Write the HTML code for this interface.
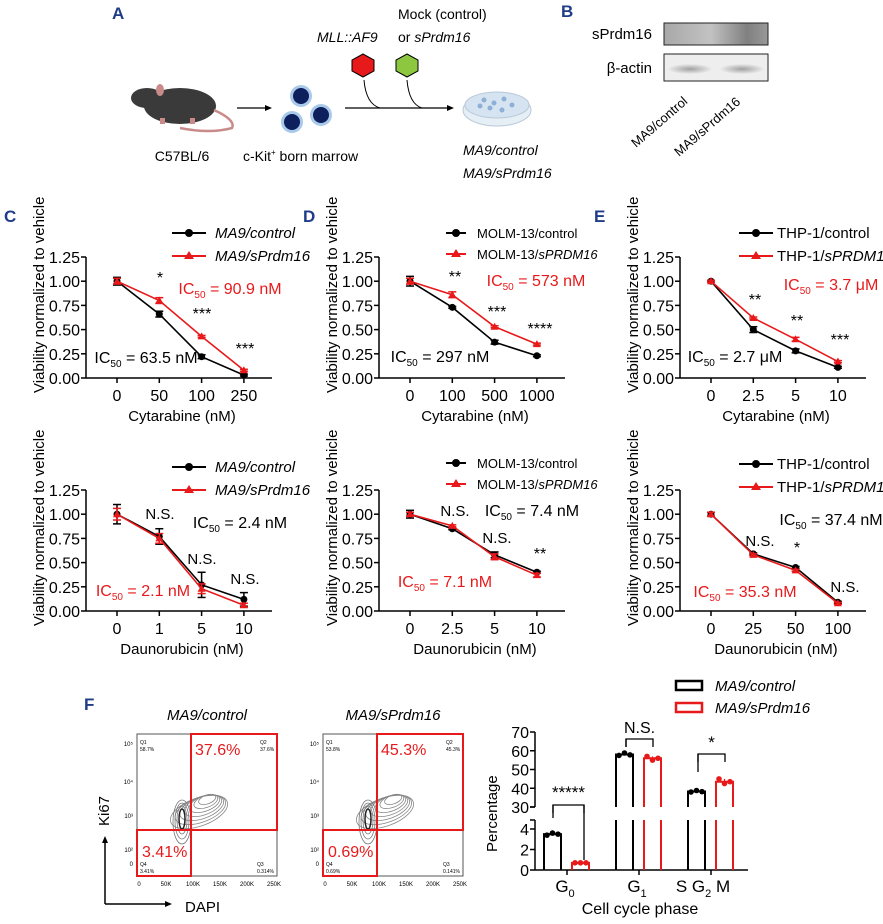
<!DOCTYPE html>
<html><head><meta charset="utf-8">
<style>
body{margin:0;background:#fff;}
svg{display:block;font-family:"Liberation Sans",sans-serif;}
</style></head>
<body>
<svg id="fig" width="883" height="924" viewBox="0 0 883 924" xmlns="http://www.w3.org/2000/svg">
<!-- Panel A -->
<g>
<text x="112" y="19" font-size="17" font-weight="bold" fill="#1f3c88">A</text>
<g>
<ellipse cx="180" cy="106" rx="36" ry="18" fill="#3a3a3a"/>
<ellipse cx="147" cy="98" rx="16" ry="10" fill="#3a3a3a"/>
<ellipse cx="160" cy="90" rx="4" ry="6" fill="#c98a8a"/>
<path d="M214 110 Q236 120 232 128 Q210 134 180 128" stroke="#c98a8a" stroke-width="2.5" fill="none"/>
<rect x="160" y="118" width="5" height="6" fill="#c98a8a"/>
<rect x="190" y="118" width="5" height="6" fill="#c98a8a"/>
</g>
<line x1="237" y1="108" x2="268" y2="108" stroke="#000" stroke-width="1.3"/>
<polygon points="272,108 265,105 265,111" fill="#000"/>
<g>
<circle cx="301" cy="96" r="11" fill="#a9c9ea"/><circle cx="301" cy="96" r="8" fill="#0d1f5c"/>
<circle cx="292" cy="122" r="11" fill="#a9c9ea"/><circle cx="292" cy="122" r="8" fill="#0d1f5c"/>
<circle cx="321" cy="115" r="11" fill="#a9c9ea"/><circle cx="321" cy="115" r="8" fill="#0d1f5c"/>
</g>
<line x1="345" y1="108" x2="450" y2="108" stroke="#000" stroke-width="1.3"/>
<polygon points="454,108 447,105 447,111" fill="#000"/>
<path d="M364 80 Q366 104 380 108" stroke="#000" fill="none"/>
<path d="M407 80 Q409 104 422 108" stroke="#000" fill="none"/>
<polygon points="363,54 374,60 374,71 363,77 352,71 352,60" fill="#e8191b" stroke="#000"/>
<polygon points="407,54 418,60 418,71 407,77 396,71 396,60" fill="#8dc63f" stroke="#000"/>
<g>
<ellipse cx="497" cy="110" rx="34" ry="16" fill="#e6eef6" stroke="#b8c8d8"/>
<ellipse cx="497" cy="105" rx="32" ry="13" fill="#d6e4f2" stroke="#b8c8d8"/>
<g fill="#8fb0d6"><circle cx="484" cy="100" r="2.5"/><circle cx="494" cy="103" r="2.5"/><circle cx="504" cy="99" r="2.5"/><circle cx="490" cy="108" r="2.5"/><circle cx="502" cy="110" r="2.5"/><circle cx="512" cy="105" r="2.5"/><circle cx="480" cy="106" r="2.5"/></g>
</g>
<text x="182" y="161" font-size="14" text-anchor="middle">C57BL/6</text>
<text x="243" y="161" font-size="14">c-Kit<tspan font-size="8" dy="-6">+</tspan><tspan dy="6"> born marrow</tspan></text>
<text x="398" y="19" font-size="14">Mock (control)</text>
<text x="398" y="42" font-size="14">or <tspan font-style="italic">sPrdm16</tspan></text>
<text x="317" y="42" font-size="14" font-style="italic">MLL::AF9</text>
<text x="463" y="155" font-size="14" font-style="italic">MA9/control</text>
<text x="463" y="178" font-size="14" font-style="italic">MA9/sPrdm16</text>
</g>
<!-- Panel B -->
<g>
<text x="561" y="17" font-size="17" font-weight="bold" fill="#1f3c88">B</text>
<text x="652" y="39" font-size="15" text-anchor="end">sPrdm16</text>
<text x="652" y="73" font-size="15" text-anchor="end">β-actin</text>
<defs>
<linearGradient id="b1" x1="0" x2="1"><stop offset="0" stop-color="#a8a8a8"/><stop offset="0.45" stop-color="#c2c2c2"/><stop offset="0.8" stop-color="#808080"/><stop offset="1" stop-color="#999"/></linearGradient>
<radialGradient id="b2"><stop offset="0" stop-color="#a0a0a0"/><stop offset="1" stop-color="#ececec"/></radialGradient>
</defs>
<rect x="664" y="23" width="104" height="22" fill="url(#b1)" stroke="#222"/>
<rect x="664" y="54" width="104" height="27" fill="#eee" stroke="#222"/>
<ellipse cx="690" cy="69" rx="22" ry="5" fill="url(#b2)"/><ellipse cx="742" cy="69" rx="22" ry="5" fill="url(#b2)"/>
<text transform="translate(636,148) rotate(-41)" font-size="13">MA9/control</text>
<text transform="translate(679,157) rotate(-41)" font-size="13">MA9/sPrdm16</text>
</g>
<g id="charts"></g>
<!-- Panel F flow -->
<g>
<text x="84" y="710" font-size="17" font-weight="bold" fill="#1f3c88">F</text>
<g id="flow"></g>
<text transform="translate(109,826) rotate(-90)" font-size="15">Ki67</text>
<line x1="105" y1="840" x2="105" y2="904" stroke="#000" stroke-width="1.5"/>
<polygon points="105,836 102,843 108,843" fill="#000"/>
<line x1="105" y1="904" x2="168" y2="904" stroke="#000" stroke-width="1.5"/>
<polygon points="172,904 165,901 165,907" fill="#000"/>
<text x="185" y="912" font-size="15">DAPI</text>
</g>
<g id="bars"></g>
</svg>
<script>
const NS="http://www.w3.org/2000/svg";
function el(tag,attrs,parent,text){const e=document.createElementNS(NS,tag);for(const k in attrs)e.setAttribute(k,attrs[k]);if(text!==undefined)e.textContent=text;parent.appendChild(e);return e;}

// ---- line chart data ----
const cTopCats=["0","50","100","250"];
const cTopControl=[1.0,0.66,0.22,0.03];
const cTopSprdm=[1.0,0.80,0.43,0.08];
const cTopCtrlErr=[0.04,0.03,0.02,0.01];
const cTopSpErr=[0.03,0.03,0.01,0.01];
const cBotCats=["0","1","5","10"];
const cBotControl=[1.0,0.77,0.27,0.12];
const cBotSprdm=[1.0,0.75,0.23,0.06];
const cBotCtrlErr=[0.1,0.08,0.13,0.07];
const cBotSpErr=[0.06,0.05,0.05,0.02];
const dTopCats=["0","100","500","1000"];
const dTopControl=[1.0,0.73,0.37,0.23];
const dTopSprdm=[1.0,0.86,0.53,0.35];
const dTopCtrlErr=[0.05,0.01,0.02,0.01];
const dTopSpErr=[0.03,0.03,0.01,0.01];
const dBotCats=["0","2.5","5","10"];
const dBotControl=[1.0,0.85,0.58,0.40];
const dBotSprdm=[1.0,0.88,0.56,0.37];
const dBotCtrlErr=[0.04,0.01,0.03,0.01];
const dBotSpErr=[0.02,0.01,0.03,0.02];
const eTopCats=["0","2.5","5","10"];
const eTopControl=[1.0,0.50,0.28,0.11];
const eTopSprdm=[1.0,0.62,0.40,0.17];
const eTopCtrlErr=[0.01,0.03,0.02,0.01];
const eTopSpErr=[0.01,0.01,0.02,0.01];
const eBotCats=["0","25","50","100"];
const eBotControl=[1.0,0.59,0.45,0.09];
const eBotSprdm=[1.0,0.58,0.42,0.08];
const eBotCtrlErr=[0.02,0.01,0.01,0.01];
const eBotSpErr=[0.02,0.01,0.01,0.01];
const yTicks=[0,0.25,0.5,0.75,1.0,1.25];
const yTickLabels=["0.00","0.25","0.50","0.75","1.00","1.25"];

const charts=document.getElementById('charts');
function lineChart(o){
  const g=el('g',{},charts);
  
  
  const x0=o.ax, x1=o.ax+186, yTop=o.top, yBot=o.top+121;
  const ys=v=>yBot-(v/1.25)*(yBot-yTop);
  const xs=i=>o.ax+31+i*42.3;
  el('line',{x1:x0,y1:yTop,x2:x0,y2:yBot,stroke:'#000','stroke-width':1.5},g);
  el('line',{x1:x0,y1:yBot,x2:x1,y2:yBot,stroke:'#000','stroke-width':1.5},g);
  yTicks.forEach((t,i)=>{
    el('line',{x1:x0-5,y1:ys(t),x2:x0,y2:ys(t),stroke:'#000','stroke-width':1.5},g);
    const tl=el('text',{x:x0-6,y:ys(t)+6,'font-size':16,'text-anchor':'end'},g,yTickLabels[i]);
    
    
  });
  o.cats.forEach((c,i)=>{
    el('line',{x1:xs(i),y1:yBot,x2:xs(i),y2:yBot+5,stroke:'#000','stroke-width':1.5},g);
    const tl=el('text',{x:xs(i),y:yBot+23,'font-size':16,'text-anchor':'middle'},g,c);
    
    
  });
  const xt=el('text',{x:(x0+x1)/2+3,y:yBot+43,'font-size':15,'text-anchor':'middle'},g,o.xtitle);
  
  
  const yt=el('text',{transform:`translate(${x0-42},${yBot+15}) rotate(-90)`,'font-size':15},g,'Viability normalized to vehicle');
  
  
  [[o.ctrl,o.ce,'#000','control'],[o.sp,o.se,'#e8191b','sprdm16']].forEach(([vals,errs,col,nm])=>{
    const pl=el('polyline',{points:vals.map((v,i)=>xs(i)+','+ys(v)).join(' '),fill:'none',stroke:col,'stroke-width':1.6},g);
    
    
    vals.forEach((v,i)=>{
      const a=ys(v+errs[i]),b=ys(v-errs[i]);
      el('line',{x1:xs(i),y1:a,x2:xs(i),y2:b,stroke:col,'stroke-width':1.5},g);
      el('line',{x1:xs(i)-4,y1:a,x2:xs(i)+4,y2:a,stroke:col,'stroke-width':1.5},g);
      el('line',{x1:xs(i)-4,y1:b,x2:xs(i)+4,y2:b,stroke:col,'stroke-width':1.5},g);
      let m;
      if(nm==='control') m=el('circle',{cx:xs(i),cy:ys(v),r:3.5,fill:col},g);
      else m=el('polygon',{points:`${xs(i)},${ys(v)-4} ${xs(i)-4},${ys(v)+3} ${xs(i)+4},${ys(v)+3}`,fill:col},g);
      
      
    });
  });
  const L=o.leg;
  [[0,'#000',o.l1,'c'],[1,'#e8191b',o.l2,'t']].forEach(([k,col,lbl,mk])=>{
    const y=L.y+k*L.dy;
    el('line',{x1:L.x,y1:y,x2:L.x+L.w,y2:y,stroke:col,'stroke-width':2},g);
    const mx=L.x+L.w/2;
    if(mk==='c') el('circle',{cx:mx,cy:y,r:4,fill:col},g);
    else el('polygon',{points:`${mx},${y-5} ${mx-5},${y+3} ${mx+5},${y+3}`,fill:col},g);
    const t=el('text',{x:L.x+L.w+L.gap,y:y+5,'font-size':L.fs},g);
    t.innerHTML=lbl;
    
    
  });
  o.ann.forEach(a=>{
    const t=el('text',{x:a[0],y:a[1],'font-size':a[3]||15,fill:a[4]||'#000','text-anchor':'middle'},g);
    t.innerHTML=a[2];
    
    
  });
}
const ic=(v)=>`IC<tspan font-size="10" dy="4">50</tspan><tspan dy="-4"> = ${v}</tspan>`;
const legC={x:172,y:233,dy:23,w:34,gap:9,fs:15};
const legD={x:446,y:233,dy:21,w:20,gap:11,fs:13};
const legE={x:739,y:233,dy:23,w:34,gap:4,fs:15};
lineChart({name:'chart-c-cytarabine',ax:86,top:257,cats:cTopCats,ctrl:cTopControl,sp:cTopSprdm,ce:cTopCtrlErr,se:cTopSpErr,xtitle:'Cytarabine (nM)',
 leg:legC,l1:'<tspan font-style="italic">MA9/control</tspan>',l2:'<tspan font-style="italic">MA9/sPrdm16</tspan>',
 ann:[[160,283,'*',16],[202,319,'***',16],[245,354,'***',16],[230,294,ic('90.9 nM'),16,'#e8191b'],[146,363,ic('63.5 nM'),16]]});
lineChart({name:'chart-c-daunorubicin',ax:86,top:490,cats:cBotCats,ctrl:cBotControl,sp:cBotSprdm,ce:cBotCtrlErr,se:cBotSpErr,xtitle:'Daunorubicin (nM)',
 leg:{...legC,y:467},l1:'<tspan font-style="italic">MA9/control</tspan>',l2:'<tspan font-style="italic">MA9/sPrdm16</tspan>',
 ann:[[160,519,'N.S.'],[202,564,'N.S.'],[245,584,'N.S.'],[240,528,ic('2.4 nM'),16],[143,596,ic('2.1 nM'),16,'#e8191b']]});
lineChart({name:'chart-d-cytarabine',ax:379,top:257,cats:dTopCats,ctrl:dTopControl,sp:dTopSprdm,ce:dTopCtrlErr,se:dTopSpErr,xtitle:'Cytarabine (nM)',
 leg:legD,l1:'MOLM-13/control',l2:'MOLM-13/<tspan font-style="italic">sPRDM16</tspan>',
 ann:[[455,282,'**',16],[497,317,'***',16],[540,334,'****',16],[536,286,ic('573 nM'),16,'#e8191b'],[440,362,ic('297 nM'),16]]});
lineChart({name:'chart-d-daunorubicin',ax:379,top:490,cats:dBotCats,ctrl:dBotControl,sp:dBotSprdm,ce:dBotCtrlErr,se:dBotSpErr,xtitle:'Daunorubicin (nM)',
 leg:{...legD,y:463},l1:'MOLM-13/control',l2:'MOLM-13/<tspan font-style="italic">sPRDM16</tspan>',
 ann:[[455,516,'N.S.'],[497,543,'N.S.'],[540,559,'**',16],[532,516,ic('7.4 nM'),16],[445,587,ic('7.1 nM'),16,'#e8191b']]});
lineChart({name:'chart-e-cytarabine',ax:680,top:257,cats:eTopCats,ctrl:eTopControl,sp:eTopSprdm,ce:eTopCtrlErr,se:eTopSpErr,xtitle:'Cytarabine (nM)',
 leg:legE,l1:'THP-1/control',l2:'THP-1/<tspan font-style="italic">sPRDM16</tspan>',
 ann:[[755,305,'**',16],[797,326,'**',16],[840,345,'***',16],[831,290,ic('3.7 μM'),16,'#e8191b'],[735,362,ic('2.7 μM'),16]]});
lineChart({name:'chart-e-daunorubicin',ax:680,top:490,cats:eBotCats,ctrl:eBotControl,sp:eBotSprdm,ce:eBotCtrlErr,se:eBotSpErr,xtitle:'Daunorubicin (nM)',
 leg:{...legE,y:464},l1:'THP-1/control',l2:'THP-1/<tspan font-style="italic">sPRDM16</tspan>',
 ann:[[760,546,'N.S.'],[797,553,'*',16],[845,592,'N.S.'],[831,525,ic('37.4 nM'),16],[745,597,ic('35.3 nM'),16,'#e8191b']]});
[['C',4,222],['D',303,222],['E',594,222]].forEach(([l,x,y])=>{
  const t=el('text',{x:x,y:y,'font-size':17,'font-weight':'bold',fill:'#1f3c88'},charts,l);
  
  
});

// ---- flow plots ----
const flowTitles=["MA9/control","MA9/sPrdm16"];
const flowQ2=["37.6%","45.3%"];
const flowQ4=["3.41%","0.69%"];
const flowQ1small=["58.7%","53.8%"];
const flowQ3small=["0.314%","0.141%"];
const flow=document.getElementById('flow');
[137,323].forEach((bx,k)=>{
  const g=el('g',{},flow);
  
  
  const by=734, bw=140, bh=142, vx=bx+54, hy=830;
  const t=el('text',{x:bx+70,y:720,'font-size':15,'font-style':'italic','text-anchor':'middle'},g,flowTitles[k]);
  
  
  el('rect',{x:bx,y:by,width:bw,height:bh,fill:'none',stroke:'#555'},g);
  for(let i=0;i<7;i++){
    el('ellipse',{cx:bx+62+i*2,cy:812-i*1.5,rx:30-i*3.5,ry:14-i*1.6,transform:`rotate(-20 ${bx+62} 812)`,fill:'none',stroke:'#888','stroke-width':0.8},g);
  }
  for(let i=0;i<4;i++){
    el('ellipse',{cx:bx+45,cy:822-i,rx:9-i*2,ry:22-i*4,fill:'none',stroke:i==3?'#222':'#777','stroke-width':i==3?1.5:0.8},g);
  }
  el('line',{x1:vx,y1:by,x2:vx,y2:by+bh,stroke:'#e8191b','stroke-width':2},g);
  el('line',{x1:bx,y1:hy,x2:bx+bw,y2:hy,stroke:'#e8191b','stroke-width':2},g);
  el('rect',{x:vx,y:by,width:bx+bw-vx,height:hy-by,fill:'none',stroke:'#e8191b','stroke-width':2},g);
  el('rect',{x:bx,y:hy,width:vx-bx,height:by+bh-hy,fill:'none',stroke:'#e8191b','stroke-width':2},g);
  const q2=el('text',{x:vx+4,y:755,'font-size':16,fill:'#e8191b'},g,flowQ2[k]);
  
  
  const q4=el('text',{x:bx+5,y:857,'font-size':16,fill:'#e8191b'},g,flowQ4[k]);
  
  
  el('text',{x:bx+3,y:744,'font-size':5},g,'Q1');
  el('text',{x:bx+3,y:751,'font-size':5},g,flowQ1small[k]);
  el('text',{x:bx+bw-17,y:744,'font-size':5},g,'Q2');
  el('text',{x:bx+bw-17,y:751,'font-size':5},g,flowQ2[k]);
  el('text',{x:bx+3,y:866,'font-size':5},g,'Q4');
  el('text',{x:bx+3,y:873,'font-size':5},g,flowQ4[k]);
  el('text',{x:bx+bw-20,y:866,'font-size':5},g,'Q3');
  el('text',{x:bx+bw-20,y:873,'font-size':5},g,flowQ3small[k]);
  ['0','50K','100K','150K','200K','250K'].forEach((l,i)=>{
    el('text',{x:bx+2+i*27,y:by+bh+10,'font-size':6,'text-anchor':'middle'},g,l);
  });
  [['10⁵',746],['10⁴',784],['10³',818],['10²',852],['0',866]].forEach(([l,y])=>{
    el('text',{x:bx-4,y:y,'font-size':6,'text-anchor':'end'},g,l);
  });
});

// ---- bar chart ----
const barCats=["G0","G1","SG2M"];
const barControl=[3.5,58,38.3];
const barSprdm=[0.7,56,43.5];
const barCtrlPts=[[3.4,3.6,3.5],[57.5,58.8,57.8],[38,38.8,38.2]];
const barSpPts=[[0.7,0.7,0.7],[57,55,56],[45,42.5,43.5]];
const upperTicks=[30,40,50,60,70];
const lowerTicks=[0,2,4];
const bars=document.getElementById('bars');
const bg=el('g',{},bars);


const AX=535, AXE=748;
const yLow=v=>870-v*10.25;
const yUp=v=>807-(v-30)*1.875;
const yAny=v=>v<=4.9?yLow(v):yUp(Math.max(v,30));
el('line',{x1:AX,y1:732,x2:AX,y2:807,stroke:'#000','stroke-width':1.5},bg);
el('line',{x1:AX,y1:820,x2:AX,y2:870,stroke:'#000','stroke-width':1.5},bg);
el('line',{x1:AX,y1:870,x2:AXE,y2:870,stroke:'#000','stroke-width':1.5},bg);
el('line',{x1:AX-5,y1:807,x2:AX,y2:807,stroke:'#000','stroke-width':1.5},bg);
el('line',{x1:AX-5,y1:820,x2:AX,y2:820,stroke:'#000','stroke-width':1.5},bg);
upperTicks.forEach(t=>{
  el('line',{x1:AX-5,y1:yUp(t),x2:AX,y2:yUp(t),stroke:'#000','stroke-width':1.5},bg);
  const tl=el('text',{x:AX-6,y:yUp(t)+6,'font-size':16,'text-anchor':'end'},bg,String(t));
  
  
});
lowerTicks.forEach(t=>{
  el('line',{x1:AX-5,y1:yLow(t),x2:AX,y2:yLow(t),stroke:'#000','stroke-width':1.5},bg);
  const tl=el('text',{x:AX-6,y:yLow(t)+6,'font-size':16,'text-anchor':'end'},bg,String(t));
  
  
});
const yt2=el('text',{transform:'translate(497,852) rotate(-90)','font-size':15},bg,'Percentage');


const groupX=[567,639,711];
barCats.forEach((c,i)=>{
  [[barControl,barCtrlPts,'#000',-23],[barSprdm,barSpPts,'#e8191b',5]].forEach(([vals,pts,col,off],s)=>{
    const x=groupX[i]+off, w=17, v=vals[i];
    let d;
    if(v<=4.9){ d=`M${x},870 V${yLow(v)} H${x+w} V870`; }
    else { d=`M${x},870 V820 M${x+w},820 V870 M${x},807 V${yUp(v)} H${x+w} V807`; }
    const b=el('path',{d:d,fill:'none',stroke:col,'stroke-width':2},bg);
    
    
    pts[i].forEach((p,j)=>{
      const pt=el('circle',{cx:x+3+j*5.5,cy:yAny(p),r:2.8,fill:col},bg);
      
      
    });
    const lo=Math.min(...pts[i]),hi=Math.max(...pts[i]);
    el('line',{x1:x+w/2,y1:yAny(lo),x2:x+w/2,y2:yAny(hi),stroke:col,'stroke-width':1.2},bg);
  });
  el('line',{x1:groupX[i],y1:870,x2:groupX[i],y2:875,stroke:'#000','stroke-width':1.5},bg);
});
[['G','0',565],['G','1',637],['S G','2',703]].forEach(([a,b,x])=>{
  const t=el('text',{x:x,y:892,'font-size':17,'text-anchor':'middle'},bg);
  t.innerHTML=a+'<tspan font-size="11" dy="5">'+b+'</tspan><tspan dy="-5">'+(x>700?' M':'')+'</tspan>';
  
  
});
const xt2=el('text',{x:640,y:914,'font-size':16,'text-anchor':'middle'},bg,'Cell cycle phase');


[[553,584,805,852,'*****',798],[626,653,739,747,'N.S.',733],[698,725,754,772,'*',748]].forEach(([a,b,top,bot,lbl,ty])=>{
  el('path',{d:`M${a},${top+8} V${top} H${b} V${top+8}`,fill:'none',stroke:'#000','stroke-width':1.3},bg);
  if(bot) el('path',{d:`M${a},${top} V${a===553?top+13:bot}`,fill:'none',stroke:'#000','stroke-width':1.3},bg);
  const t=el('text',{x:(a+b)/2,y:ty,'font-size':lbl==='N.S.'?16:17,'text-anchor':'middle'},bg,lbl);
  
  
});
el('line',{x1:584,y1:805,x2:584,y2:860,stroke:'#000','stroke-width':1.3},bg);
[['MA9/control','#000',681],['MA9/sPrdm16','#e8191b',703]].forEach(([l,col,y])=>{
  el('rect',{x:676,y:y,width:26,height:9,fill:'none',stroke:col,'stroke-width':2.5},bg);
  const t=el('text',{x:715,y:y+10,'font-size':15,'font-style':'italic'},bg,l);
  
  
});
</script>
</body></html>
